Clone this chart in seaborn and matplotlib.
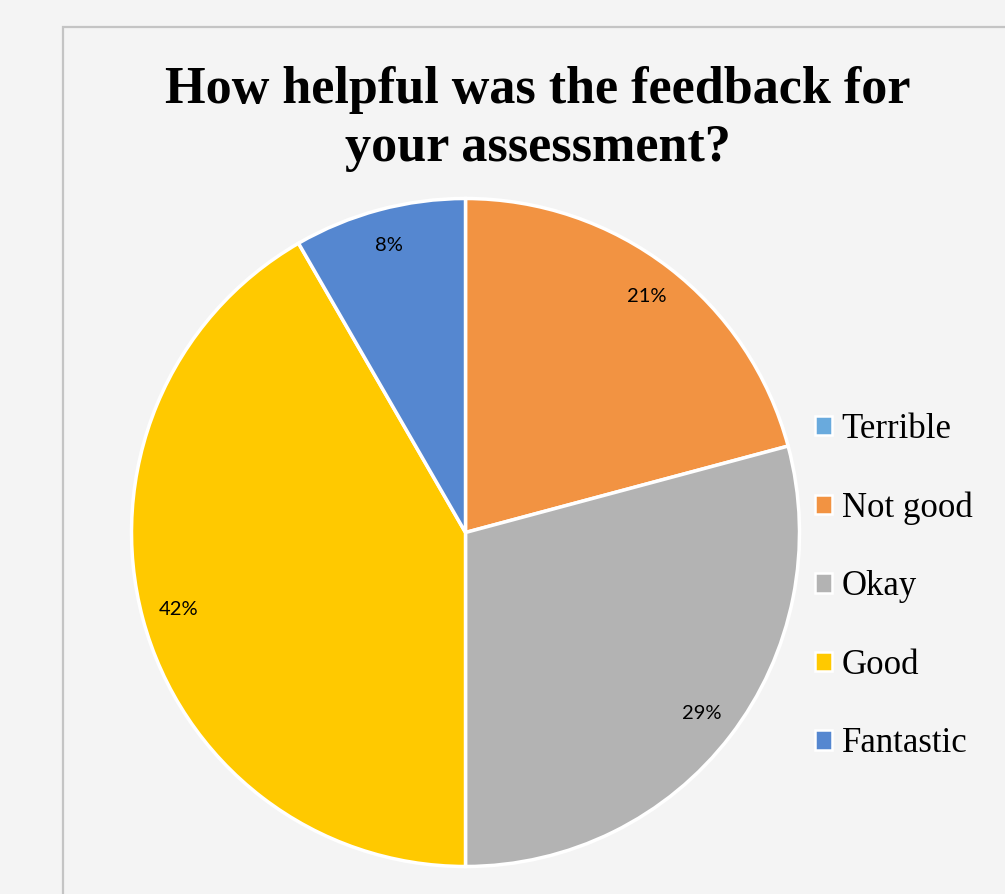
import matplotlib
matplotlib.use("Agg")
import matplotlib.pyplot as plt
import matplotlib.patches as mpatches
import seaborn as sns

categories = ["Terrible", "Not good", "Okay", "Good", "Fantastic"]
counts = [0, 5, 7, 10, 2]
colors = ["#69aadd", "#f29342", "#b3b3b3", "#ffc900", "#5587d0"]
title = "How helpful was the feedback for\nyour assessment?"

sns.set_style("white")
plt.rcParams["font.family"] = ["Liberation Serif", "DejaVu Serif"]
plt.rcParams["text.color"] = "black"

W, H = 1005, 894
fig = plt.figure(figsize=(W / 100, H / 100), dpi=100)
fig.patch.set_facecolor("#f4f4f4")

# chart area border
fig.add_artist(mpatches.Rectangle((63 / W, -0.05), 1.2, 1 - 27 / H + 0.05,
                                  transform=fig.transFigure, fill=False,
                                  edgecolor="#c4c4c4", linewidth=1.6))

cx, cy, r = 465.5, 894 - 532.5, 334
ax = fig.add_axes([(cx - r) / W, (cy - r) / H, 2 * r / W, 2 * r / H])
ax.set_facecolor("none")

def pct_fmt(p):
    return "" if p < 0.5 else f"{p:.0f}%"

wedges, texts, autotexts = ax.pie(
    counts, colors=colors, startangle=90, counterclock=False,
    autopct=pct_fmt, pctdistance=0.89, radius=1,
    wedgeprops=dict(edgecolor="white", linewidth=2.5),
    textprops=dict(family=["Lato", "DejaVu Sans"], fontsize=14.5, color="black"))
ax.set_xlim(-1, 1)
ax.set_ylim(-1, 1)
ax.set_aspect("equal")
ax.axis("off")

fig.text(538 / W, 1 - 119 / H, title, ha="center", va="center",
         fontsize=37.5, fontweight="bold", linespacing=1.27, color="black")

handles = [mpatches.Patch(facecolor=c, edgecolor="white", linewidth=1.8) for c in colors]
leg = fig.legend(handles, categories, loc="upper left",
                 bbox_to_anchor=(801 / W, 1 - 399 / H), frameon=False,
                 fontsize=25, handlelength=0.5, handleheight=0.5,
                 handletextpad=0.27, labelspacing=1.31, borderaxespad=0,
                 labelcolor="black")

fig.savefig("out.png", dpi=100, facecolor=fig.get_facecolor())
